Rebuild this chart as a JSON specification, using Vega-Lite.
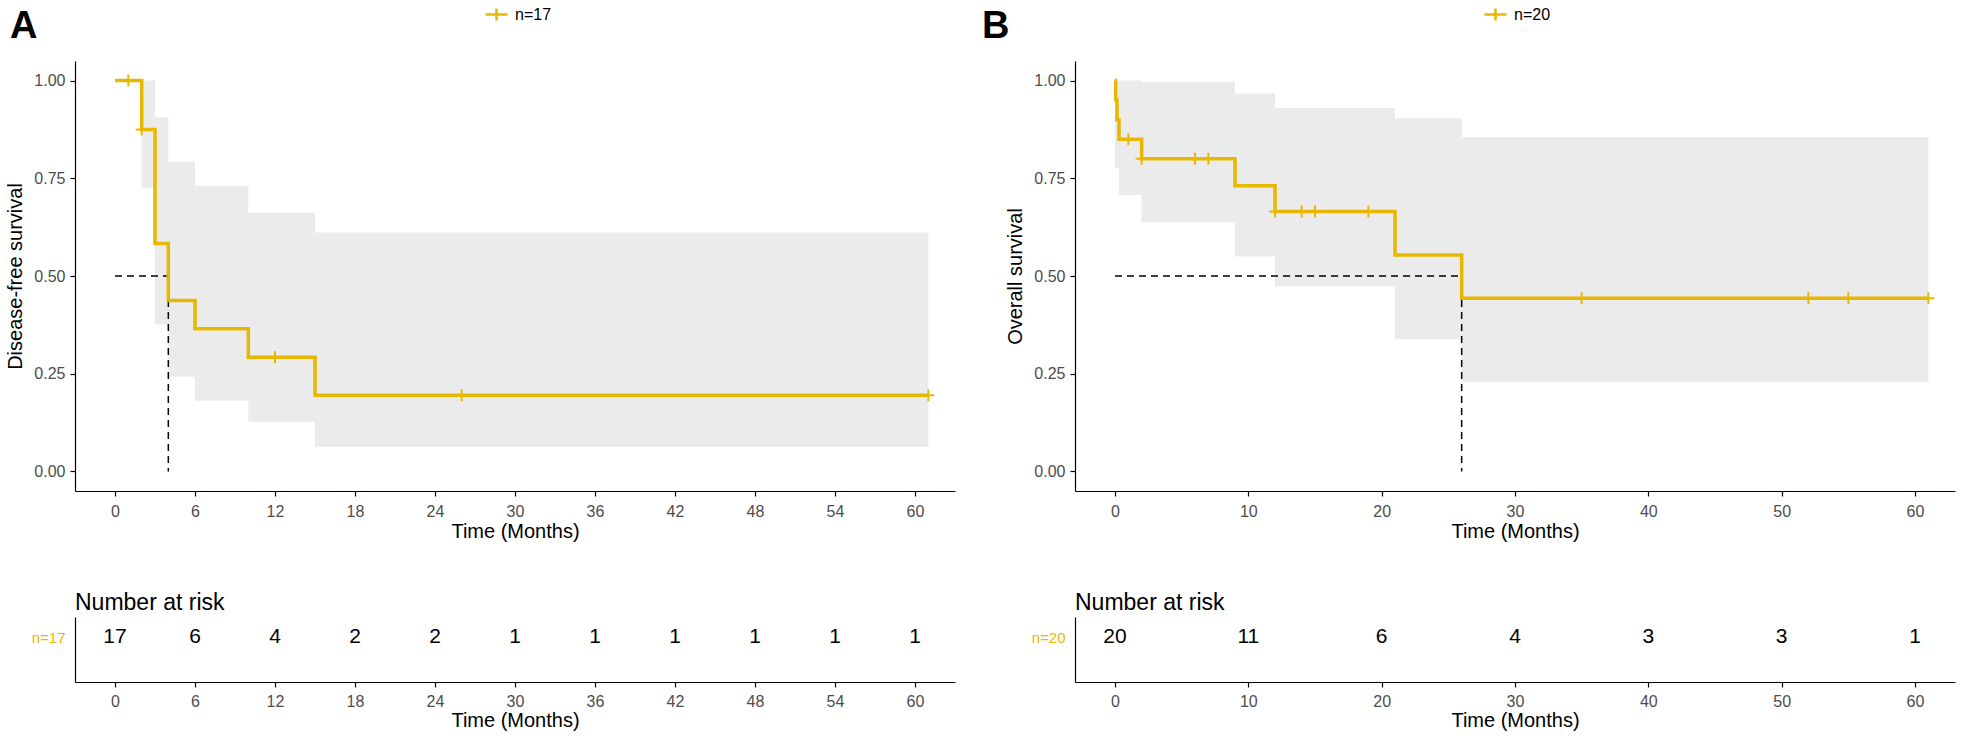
{
  "$schema": "https://vega.github.io/schema/vega-lite/v6.json",
  "background": "white",
  "padding": {"left": 5, "top": 2, "right": 10, "bottom": 4},
  "config": {
    "font": "Liberation Sans",
    "view": {"stroke": null},
    "title": {"font": "Liberation Sans", "color": "black"},
    "axis": {
      "grid": false, "domainColor": "black", "domainWidth": 1.2,
      "tickColor": "black", "tickWidth": 1.2, "tickSize": 5,
      "labelColor": "#4D4D4D", "labelFontSize": 16, "labelFont": "Liberation Sans", "labelPadding": 5,
      "titleFont": "Liberation Sans", "titleFontSize": 20, "titleFontWeight": "normal", "titleColor": "black"
    },
    "legend": {"labelFont": "Liberation Sans"}
  },
  "datasets": {
    "curveA": [
      {"t": 0, "s": 1, "g": "n=17"}, {"t": 2, "s": 0.875, "g": "n=17"}, {"t": 3, "s": 0.583, "g": "n=17"},
      {"t": 4, "s": 0.4375, "g": "n=17"}, {"t": 6, "s": 0.365, "g": "n=17"}, {"t": 10, "s": 0.292, "g": "n=17"},
      {"t": 15, "s": 0.195, "g": "n=17"}, {"t": 61, "s": 0.195, "g": "n=17"}
    ],
    "censA": [
      {"t": 1, "s": 1}, {"t": 2, "s": 0.875}, {"t": 12, "s": 0.292}, {"t": 26, "s": 0.195}, {"t": 61, "s": 0.195}
    ],
    "bandA": [
      {"t": 2, "hi": 1, "lo": 0.726}, {"t": 3, "hi": 0.906, "lo": 0.376}, {"t": 4, "hi": 0.793, "lo": 0.242},
      {"t": 6, "hi": 0.73, "lo": 0.181}, {"t": 10, "hi": 0.662, "lo": 0.127}, {"t": 15, "hi": 0.611, "lo": 0.063},
      {"t": 61, "hi": 0.611, "lo": 0.063}
    ],
    "medA": [
      {"t0": 0, "t1": 4, "s0": 0.5, "s1": 0.5}, {"t0": 4, "t1": 4, "s0": 0.5, "s1": 0}
    ],
    "riskA": [
      {"t": 0, "n": 17, "g": "n=17"}, {"t": 6, "n": 6, "g": "n=17"}, {"t": 12, "n": 4, "g": "n=17"},
      {"t": 18, "n": 2, "g": "n=17"}, {"t": 24, "n": 2, "g": "n=17"}, {"t": 30, "n": 1, "g": "n=17"},
      {"t": 36, "n": 1, "g": "n=17"}, {"t": 42, "n": 1, "g": "n=17"}, {"t": 48, "n": 1, "g": "n=17"},
      {"t": 54, "n": 1, "g": "n=17"}, {"t": 60, "n": 1, "g": "n=17"}
    ],
    "curveB": [
      {"t": 0, "s": 1, "g": "n=20"}, {"t": 0.05, "s": 0.95, "g": "n=20"}, {"t": 0.15, "s": 0.9, "g": "n=20"},
      {"t": 0.3, "s": 0.85, "g": "n=20"}, {"t": 2, "s": 0.8, "g": "n=20"}, {"t": 9, "s": 0.731, "g": "n=20"},
      {"t": 12, "s": 0.665, "g": "n=20"}, {"t": 21, "s": 0.554, "g": "n=20"}, {"t": 26, "s": 0.443, "g": "n=20"},
      {"t": 61, "s": 0.443, "g": "n=20"}
    ],
    "censB": [
      {"t": 1, "s": 0.85}, {"t": 2, "s": 0.8}, {"t": 6, "s": 0.8}, {"t": 7, "s": 0.8},
      {"t": 12, "s": 0.665}, {"t": 14, "s": 0.665}, {"t": 15, "s": 0.665}, {"t": 19, "s": 0.665},
      {"t": 35, "s": 0.443}, {"t": 52, "s": 0.443}, {"t": 55, "s": 0.443}, {"t": 61, "s": 0.443}
    ],
    "bandB": [
      {"t": 0, "hi": 1, "lo": 0.777}, {"t": 0.3, "hi": 1, "lo": 0.707}, {"t": 2, "hi": 0.996, "lo": 0.637},
      {"t": 9, "hi": 0.967, "lo": 0.55}, {"t": 12, "hi": 0.93, "lo": 0.473}, {"t": 21, "hi": 0.904, "lo": 0.338},
      {"t": 26, "hi": 0.855, "lo": 0.229}, {"t": 61, "hi": 0.855, "lo": 0.229}
    ],
    "medB": [
      {"t0": 0, "t1": 26, "s0": 0.5, "s1": 0.5}, {"t0": 26, "t1": 26, "s0": 0.5, "s1": 0}
    ],
    "riskB": [
      {"t": 0, "n": 20, "g": "n=20"}, {"t": 10, "n": 11, "g": "n=20"}, {"t": 20, "n": 6, "g": "n=20"},
      {"t": 30, "n": 4, "g": "n=20"}, {"t": 40, "n": 3, "g": "n=20"}, {"t": 50, "n": 3, "g": "n=20"},
      {"t": 60, "n": 1, "g": "n=20"}
    ]
  },
  "spacing": 27,
  "resolve": {"scale": {"stroke": "independent"}, "legend": {"stroke": "independent"}},
  "hconcat": [
    {
      "spacing": 51,
      "vconcat": [
        {
          "width": 880, "height": 430,
          "title": {"text": "A", "anchor": "start", "frame": "bounds", "fontSize": 38, "fontWeight": "bold", "offset": 15, "dx": 5},
          "layer": [
            {
              "data": {"name": "bandA"},
              "mark": {"type": "area", "interpolate": "step-after", "color": "#EBEBEB"},
              "encoding": {
                "x": {"field": "t", "type": "quantitative", "title": "Time (Months)", "scale": {"domain": [-3, 63], "nice": false, "zero": false},
                      "axis": {"values": [0, 6, 12, 18, 24, 30, 36, 42, 48, 54, 60], "labelPadding": 7, "titlePadding": 2}},
                "y": {"field": "hi", "type": "quantitative", "title": "Disease-free survival", "scale": {"domain": [-0.05, 1.05], "nice": false, "zero": false},
                      "axis": {"values": [0, 0.25, 0.5, 0.75, 1], "format": ".2f", "minExtent": 42, "maxExtent": 42, "titlePadding": 8}},
                "y2": {"field": "lo"}
              }
            },
            {
              "data": {"name": "medA"},
              "mark": {"type": "rule", "color": "black", "strokeWidth": 1.5, "strokeDash": [7, 5]},
              "encoding": {
                "x": {"field": "t0", "type": "quantitative", "title": "Time (Months)", "scale": {"domain": [-3, 63], "nice": false, "zero": false}},
                "x2": {"field": "t1"},
                "y": {"field": "s0", "type": "quantitative", "title": "Disease-free survival", "scale": {"domain": [-0.05, 1.05], "nice": false, "zero": false}},
                "y2": {"field": "s1"}
              }
            },
            {
              "data": {"name": "curveA"},
              "mark": {"type": "line", "interpolate": "step-after", "strokeWidth": 3.5},
              "encoding": {
                "x": {"field": "t", "type": "quantitative", "title": "Time (Months)", "scale": {"domain": [-3, 63], "nice": false, "zero": false}},
                "y": {"field": "s", "type": "quantitative", "title": "Disease-free survival", "scale": {"domain": [-0.05, 1.05], "nice": false, "zero": false}},
                "stroke": {"field": "g", "type": "nominal", "scale": {"range": ["#E7B800"]},
                           "legend": {"orient": "none", "legendX": 409, "legendY": -59, "title": null, "padding": 0,
                                      "symbolType": "M-1,0L1,0M0,-0.55L0,0.55", "symbolSize": 484, "symbolStrokeWidth": 2.5,
                                      "labelFontSize": 16, "labelColor": "black", "labelOffset": 6}}
              }
            },
            {
              "data": {"name": "censA"},
              "mark": {"type": "point", "shape": "M-1,0L1,0M0,-1L0,1", "size": 144, "filled": false, "color": "#E7B800", "strokeWidth": 2, "opacity": 1},
              "encoding": {
                "x": {"field": "t", "type": "quantitative", "title": "Time (Months)", "scale": {"domain": [-3, 63], "nice": false, "zero": false}},
                "y": {"field": "s", "type": "quantitative", "title": "Disease-free survival", "scale": {"domain": [-0.05, 1.05], "nice": false, "zero": false}}
              }
            }
          ]
        },
        {
          "width": 880, "height": 65,
          "title": {"text": "Number at risk", "anchor": "start", "frame": "group", "fontSize": 23, "fontWeight": "normal", "offset": 2},
          "data": {"name": "riskA"},
          "mark": {"type": "text", "fontSize": 21, "color": "black", "font": "Liberation Sans"},
          "encoding": {
            "x": {"field": "t", "type": "quantitative", "title": "Time (Months)", "scale": {"domain": [-3, 63], "nice": false, "zero": false},
                  "axis": {"values": [0, 6, 12, 18, 24, 30, 36, 42, 48, 54, 60], "labelPadding": 6, "titlePadding": 1}},
            "y": {"field": "g", "type": "nominal", "title": null, "scale": {"type": "point", "padding": 0, "align": 0.31},
                  "axis": {"ticks": false, "labelColor": "#E7B800", "labelFontSize": 15, "labelPadding": 10}},
            "text": {"field": "n", "type": "quantitative"}
          }
        }
      ]
    },
    {
      "spacing": 51,
      "vconcat": [
        {
          "width": 880, "height": 430,
          "title": {"text": "B", "anchor": "start", "frame": "bounds", "fontSize": 38, "fontWeight": "bold", "offset": 15, "dx": -23},
          "layer": [
            {
              "data": {"name": "bandB"},
              "mark": {"type": "area", "interpolate": "step-after", "color": "#EBEBEB"},
              "encoding": {
                "x": {"field": "t", "type": "quantitative", "title": "Time (Months)", "scale": {"domain": [-3, 63], "nice": false, "zero": false},
                      "axis": {"values": [0, 10, 20, 30, 40, 50, 60], "labelPadding": 7, "titlePadding": 2}},
                "y": {"field": "hi", "type": "quantitative", "title": "Overall survival", "scale": {"domain": [-0.05, 1.05], "nice": false, "zero": false},
                      "axis": {"values": [0, 0.25, 0.5, 0.75, 1], "format": ".2f", "minExtent": 42, "maxExtent": 42, "titlePadding": 8}},
                "y2": {"field": "lo"}
              }
            },
            {
              "data": {"name": "medB"},
              "mark": {"type": "rule", "color": "black", "strokeWidth": 1.5, "strokeDash": [7, 5]},
              "encoding": {
                "x": {"field": "t0", "type": "quantitative", "title": "Time (Months)", "scale": {"domain": [-3, 63], "nice": false, "zero": false}},
                "x2": {"field": "t1"},
                "y": {"field": "s0", "type": "quantitative", "title": "Overall survival", "scale": {"domain": [-0.05, 1.05], "nice": false, "zero": false}},
                "y2": {"field": "s1"}
              }
            },
            {
              "data": {"name": "curveB"},
              "mark": {"type": "line", "interpolate": "step-after", "strokeWidth": 3.5},
              "encoding": {
                "x": {"field": "t", "type": "quantitative", "title": "Time (Months)", "scale": {"domain": [-3, 63], "nice": false, "zero": false}},
                "y": {"field": "s", "type": "quantitative", "title": "Overall survival", "scale": {"domain": [-0.05, 1.05], "nice": false, "zero": false}},
                "stroke": {"field": "g", "type": "nominal", "scale": {"range": ["#E7B800"]},
                           "legend": {"orient": "none", "legendX": 408, "legendY": -59, "title": null, "padding": 0,
                                      "symbolType": "M-1,0L1,0M0,-0.55L0,0.55", "symbolSize": 484, "symbolStrokeWidth": 2.5,
                                      "labelFontSize": 16, "labelColor": "black", "labelOffset": 6}}
              }
            },
            {
              "data": {"name": "censB"},
              "mark": {"type": "point", "shape": "M-1,0L1,0M0,-1L0,1", "size": 144, "filled": false, "color": "#E7B800", "strokeWidth": 2, "opacity": 1},
              "encoding": {
                "x": {"field": "t", "type": "quantitative", "title": "Time (Months)", "scale": {"domain": [-3, 63], "nice": false, "zero": false}},
                "y": {"field": "s", "type": "quantitative", "title": "Overall survival", "scale": {"domain": [-0.05, 1.05], "nice": false, "zero": false}}
              }
            }
          ]
        },
        {
          "width": 880, "height": 65,
          "title": {"text": "Number at risk", "anchor": "start", "frame": "group", "fontSize": 23, "fontWeight": "normal", "offset": 2},
          "data": {"name": "riskB"},
          "mark": {"type": "text", "fontSize": 21, "color": "black", "font": "Liberation Sans"},
          "encoding": {
            "x": {"field": "t", "type": "quantitative", "title": "Time (Months)", "scale": {"domain": [-3, 63], "nice": false, "zero": false},
                  "axis": {"values": [0, 10, 20, 30, 40, 50, 60], "labelPadding": 6, "titlePadding": 1}},
            "y": {"field": "g", "type": "nominal", "title": null, "scale": {"type": "point", "padding": 0, "align": 0.31},
                  "axis": {"ticks": false, "labelColor": "#E7B800", "labelFontSize": 15, "labelPadding": 10}},
            "text": {"field": "n", "type": "quantitative"}
          }
        }
      ]
    }
  ]
}
